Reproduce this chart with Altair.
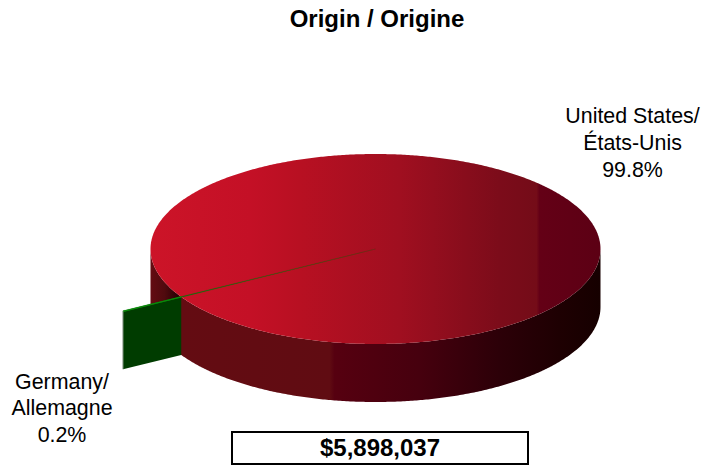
import numpy as np
import pandas as pd
import altair as alt

labels = ["United States/\nÉtats-Unis\n99.8%", "Germany/\nAllemagne\n0.2%"]
shares = [99.8, 0.2]
total_label = "$5,898,037"
title_text = "Origin / Origine"

# pie geometry in page pixels
CX, CY, RX, RY, DEPTH = 375.5, 249.0, 225.0, 95.0, 58.0
WEDGE_MID_DEG, PULL = 149.7, 1.30
FONT = "Liberation Sans"

wedge_half = np.radians(shares[1] * 3.6 / 2)
mid = np.radians(WEDGE_MID_DEG)

tt = np.linspace(0, np.pi, 361)
xs = CX + RX * np.cos(tt)
low = CY + RY * np.sin(tt)
high = CY - RY * np.sin(tt)
ellipse = pd.DataFrame({"x": xs, "y": low, "y2": high})
wall = pd.DataFrame({"x": xs, "y": low, "y2": low + DEPTH})

def edge(t, r=1.0):
    return CX + RX * r * np.cos(t), CY + RY * r * np.sin(t)

ox, oy = edge(mid, PULL)
ex, ey = edge(mid, 1.0)
face = pd.DataFrame({"x": [ox, ex], "y": [oy, ey], "y2": [oy + DEPTH, ey + DEPTH]})
a = edge(mid - wedge_half, PULL)
b = edge(mid + wedge_half, PULL)
sliver = pd.DataFrame({"x": [CX, ox], "y": [CY, a[1]], "y2": [CY, b[1]]})
top_edge = pd.DataFrame({"x": [ex, ox], "y": [ey, oy]})
rim = pd.DataFrame({"x": [ox], "y": [oy], "y2": [oy + DEPTH]})

box = pd.DataFrame({"x": [232], "x2": [528], "y": [432], "y2": [464]})

x_s = alt.Scale(domain=[8, 702], range=[0, 694], zero=False, nice=False)
y_s = alt.Scale(domain=[465, 44], range=[421, 0], zero=False, nice=False)
X = alt.X("x:Q", scale=x_s, axis=None)
Y = alt.Y("y:Q", scale=y_s, axis=None)
Y2 = alt.Y2("y2:Q")
X2 = alt.X2("x2:Q")

def grad(stops):
    return alt.Gradient(gradient="linear", x1=0, x2=1, y1=0, y2=0,
                        stops=[alt.GradientStop(offset=o, color=c) for o, c in stops])

def px(x):
    return (x - 151) / 450

top_grad = grad([(0, "#cc1428"), (px(250), "#c41026"), (px(300), "#b81022"), (px(400), "#a00f20"),
                 (px(500), "#7c0c1a"), (px(537), "#740c18"), (px(540), "#640016"), (1, "#5c0014")])
wall_grad = grad([(0, "#640c12"), (px(165), "#500a0e"), (px(178), "#2a0004"), (px(182), "#640c12"),
                  (px(330), "#600c12"), (px(335), "#560010"), (px(420), "#46000e"),
                  (px(500), "#2c0008"), (px(560), "#1e0002"), (1, "#160000")])

layers = [
    alt.Chart(wall).mark_area(color=wall_grad, orient="vertical").encode(x=X, y=Y, y2=Y2),
    alt.Chart(ellipse).mark_area(color=top_grad, orient="vertical").encode(x=X, y=Y, y2=Y2),
    alt.Chart(face).mark_area(color="#003c00", orient="vertical").encode(x=X, y=Y, y2=Y2),
    alt.Chart(sliver).mark_area(color="#0a7a0a", orient="vertical", stroke="#0a6a0a", strokeWidth=0.15).encode(x=X, y=Y, y2=Y2),
    alt.Chart(top_edge).mark_line(color="#0a8a0a", strokeWidth=1.2).encode(x=X, y=Y),
    alt.Chart(rim).mark_rule(color="#8a9a8a", strokeWidth=1).encode(x=X, y=Y, y2=Y2),
    alt.Chart(box).mark_rect(fill="white", stroke="black", strokeWidth=2).encode(x=X, x2=X2, y=Y, y2=Y2),
]

text_rows = [
    {"x": 632.5, "y": 117, "t": labels[0].split("\n")[0]},
    {"x": 632.5, "y": 144, "t": labels[0].split("\n")[1]},
    {"x": 632.5, "y": 171, "t": labels[0].split("\n")[2]},
    {"x": 62, "y": 383, "t": labels[1].split("\n")[0]},
    {"x": 62, "y": 409, "t": labels[1].split("\n")[1]},
    {"x": 62, "y": 436, "t": labels[1].split("\n")[2]},
]
layers.append(alt.Chart(pd.DataFrame(text_rows)).mark_text(font=FONT, fontSize=21.4, color="black", align="center", baseline="middle").encode(x=X, y=Y, text="t:N"))
layers.append(alt.Chart(pd.DataFrame({"x": [380], "y": [449], "t": [total_label]})).mark_text(font=FONT, fontSize=24, fontWeight="bold", color="black", align="center", baseline="middle").encode(x=X, y=Y, text="t:N"))

chart = alt.layer(*layers).properties(
    width=694, height=421,
    title=alt.TitleParams(title_text, font=FONT, fontSize=24, fontWeight="bold", color="black", anchor="middle", dx=22, offset=12),
    autosize=alt.AutoSizeParams(type="none"),
    padding={"left": 0, "top": 36, "right": 0, "bottom": 0},
).configure_view(stroke=None)

chart.save("out.html", embed_options={"renderer": "svg", "actions": False})
